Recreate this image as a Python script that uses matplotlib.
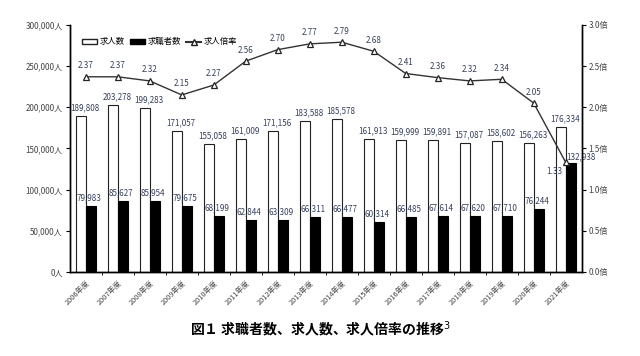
import matplotlib
matplotlib.use('Agg')
import matplotlib.pyplot as plt
import numpy as np
from matplotlib.patches import Patch
from matplotlib.lines import Line2D

plt.rcParams['font.family'] = ['Noto Sans CJK JP', 'DejaVu Sans']

years = ['2006年度', '2007年度', '2008年度', '2009年度', '2010年度', '2011年度',
         '2012年度', '2013年度', '2014年度', '2015年度', '2016年度', '2017年度',
         '2018年度', '2019年度', '2020年度', '2021年度']
openings = [189808, 203278, 199283, 171057, 155058, 161009, 171156, 183588,
            185578, 161913, 159999, 159891, 157087, 158602, 156263, 176334]
seekers = [79983, 85627, 85954, 79675, 68199, 62844, 63309, 66311,
           66477, 60314, 66485, 67614, 67620, 67710, 76244, 132938]
ratio = [2.37, 2.37, 2.32, 2.15, 2.27, 2.56, 2.70, 2.77,
         2.79, 2.68, 2.41, 2.36, 2.32, 2.34, 2.05, 1.33]

label_color = '#34405e'
tick_color = '#444444'

fig = plt.figure(figsize=(6.4, 3.56), dpi=100)
ax = fig.add_axes([0.109, 0.236, 0.800, 0.694])
ax2 = ax.twinx()

x = np.arange(len(years))
w = 0.29
ax.bar(x - 0.15, openings, w, color='white', edgecolor='#222222', linewidth=0.8, zorder=2)
ax.bar(x + 0.16, seekers, w, color='black', edgecolor='black', linewidth=0.8, zorder=2)

for i in range(len(years)):
    ax.text(x[i] - 0.02, openings[i] + 4500, f'{openings[i]:,}', ha='center', va='bottom',
            fontsize=5.8, color=label_color)
    if i == len(years) - 1:
        ax.text(x[i] + 0.02, seekers[i] + 1000, f'{seekers[i]:,}', ha='left', va='bottom',
                fontsize=5.8, color=label_color)
    else:
        ax.text(x[i] + 0.1, seekers[i] + 4500, f'{seekers[i]:,}', ha='center', va='bottom',
                fontsize=5.8, color=label_color)

ax2.plot(x, ratio, color='#333333', linewidth=1.0, marker='^', markersize=5,
         markerfacecolor='white', markeredgecolor='#222222', markeredgewidth=0.9, zorder=3)
for i in range(len(years)):
    if i == len(years) - 1:
        ax2.text(x[i] - 0.1, ratio[i] - 0.17, f'{ratio[i]:.2f}', ha='right', va='bottom',
                 fontsize=5.8, color=label_color)
    else:
        ax2.text(x[i], ratio[i] + 0.08, f'{ratio[i]:.2f}', ha='center', va='bottom',
                 fontsize=5.8, color=label_color)

ax.set_xlim(-0.5, len(years) - 0.5)
ax.set_ylim(0, 300000)
ax2.set_ylim(0, 3.0)

yt = np.arange(0, 300001, 50000)
ax.set_yticks(yt)
ax.set_yticklabels([f'{v:,}人' for v in yt], fontsize=5.8, color=tick_color)
rt = np.arange(0, 3.01, 0.5)
ax2.set_yticks(rt)
ax2.set_yticklabels([f'{v:.1f}倍' for v in rt], fontsize=5.8, color=tick_color)

ax.set_xticks(x)
ax.set_xticklabels(years, rotation=45, ha='right', rotation_mode='anchor',
                   fontsize=5.3, color=tick_color)
ax.tick_params(axis='x', length=0, pad=5)
ax.set_xticks(np.arange(0.5, len(years) - 0.5, 1), minor=True)
ax.tick_params(axis='x', which='minor', length=2, direction='out')
ax.tick_params(axis='y', length=3, direction='out', width=0.8, pad=2)
ax2.tick_params(axis='y', length=3, direction='out', width=0.8, pad=2)

for a in (ax, ax2):
    a.spines['top'].set_visible(False)
for s in ('left', 'right', 'bottom'):
    ax.spines[s].set_linewidth(1.0)
    ax2.spines[s].set_linewidth(1.0)

handles = [Patch(facecolor='white', edgecolor='#222222', label='求人数'),
           Patch(facecolor='black', edgecolor='black', label='求職者数'),
           Line2D([0], [0], color='#333333', marker='^', markerfacecolor='white',
                  markeredgecolor='#222222', markersize=5, label='求人倍率')]
ax2.legend(handles=handles, loc='upper left', bbox_to_anchor=(0.01, 0.98), ncol=3,
           frameon=False, fontsize=6, handlelength=1.8, handleheight=0.6,
           columnspacing=0.6, handletextpad=0.3)

fig.text(0.5, 0.075, '図１ 求職者数、求人数、求人倍率の推移$^3$', ha='center', va='center',
         fontsize=10, fontweight='bold')

fig.savefig('out.png', dpi=100)
